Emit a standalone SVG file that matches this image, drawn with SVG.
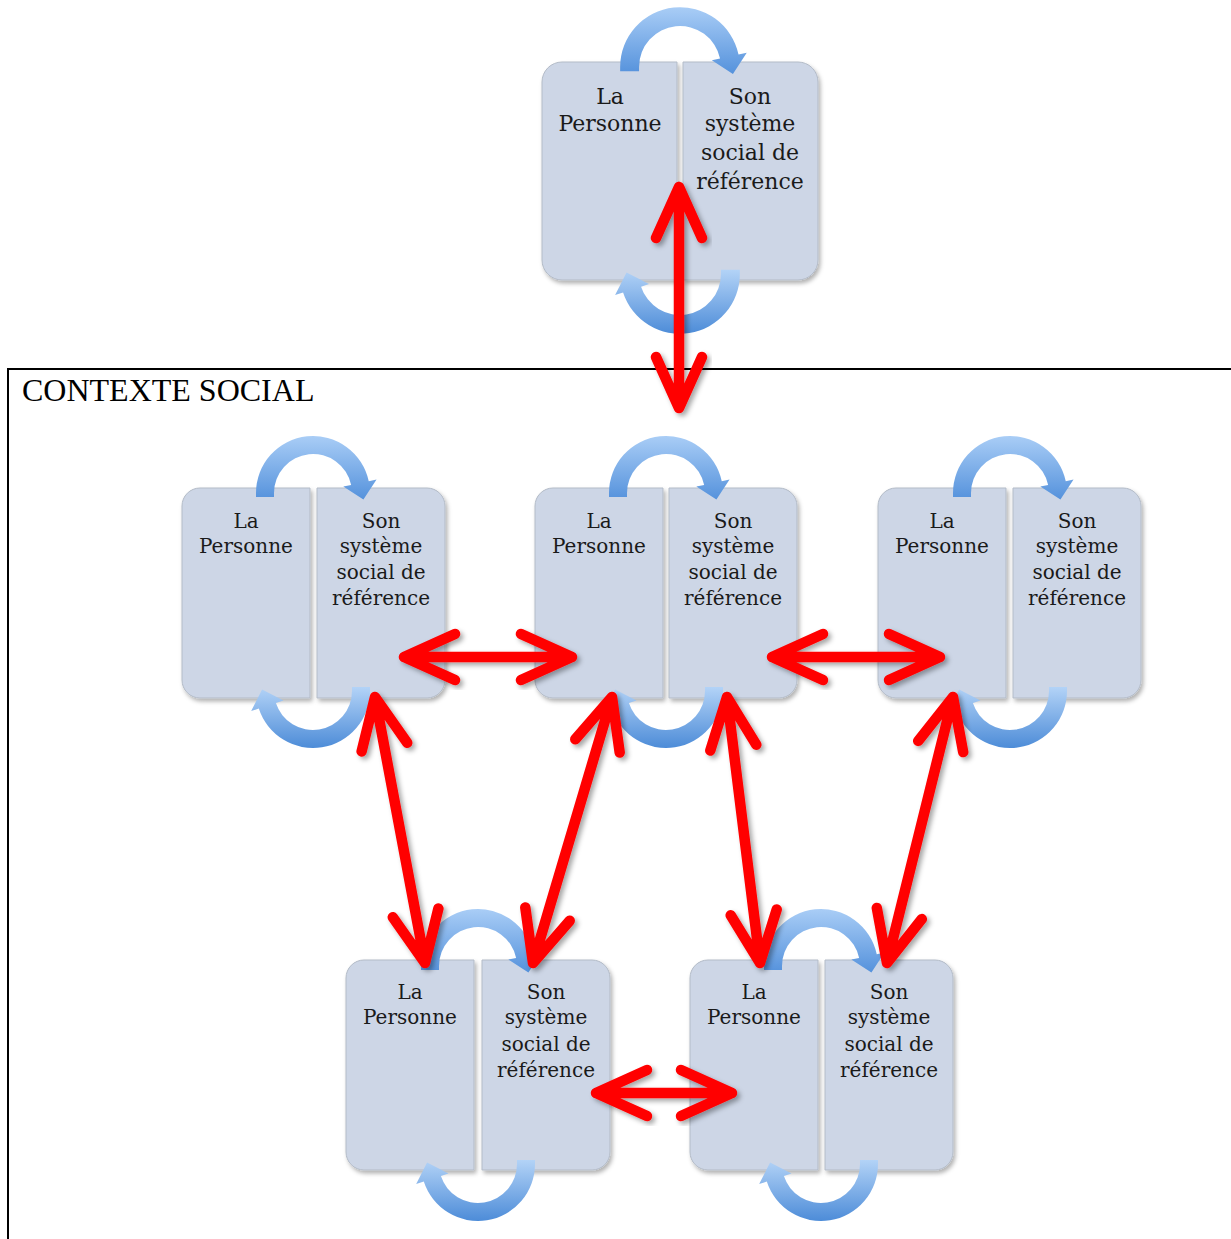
<svg xmlns="http://www.w3.org/2000/svg" xmlns:xlink="http://www.w3.org/1999/xlink" width="1231" height="1239" viewBox="0 0 1231 1239">
  <style>
    .panel { fill: #cdd6e6; stroke: #b3bbc7; stroke-width: 1; filter: url(#pshadow); }
    .lbl { font-family: "DejaVu Serif", "Liberation Serif", serif; font-size: 20px; fill: #1a1a1a; text-anchor: middle; }
    .lblTop { font-family: "DejaVu Serif", "Liberation Serif", serif; font-size: 22px; fill: #1a1a1a; text-anchor: middle; }
    .ctx { font-family: "Liberation Serif", "Times New Roman", serif; font-size: 32px; fill: #000; }
    .red { fill: none; stroke: #ff0000; stroke-width: 10.5; stroke-linecap: round; stroke-linejoin: round; filter: url(#rshadow); }
  </style>
  <defs>
    <filter id="pshadow" x="-10%" y="-10%" width="130%" height="130%">
      <feDropShadow dx="2" dy="3" stdDeviation="2" flood-color="#000" flood-opacity="0.3"/>
    </filter>
    <filter id="rshadow" x="-20%" y="-20%" width="140%" height="140%">
      <feDropShadow dx="3" dy="3" stdDeviation="2.5" flood-color="#000" flood-opacity="0.35"/>
    </filter>
    <linearGradient id="gTop" x1="0" y1="0" x2="0" y2="1">
      <stop offset="0" stop-color="#a9cdf6"/>
      <stop offset="1" stop-color="#5592dc"/>
    </linearGradient>
    <linearGradient id="gBot" x1="0" y1="0" x2="0" y2="1">
      <stop offset="0" stop-color="#b3d3f7"/>
      <stop offset="1" stop-color="#4d8cd8"/>
    </linearGradient>
    <path id="arcTop" fill="url(#gTop)" d="M-57,4 L-57,0 A57 57 0 0 1 55.75,-11.85 L63.57,-13.51 L50.4,6.6 L30.32,-6.45 L38.15,-8.11 A39 39 0 0 0 -39,0 L-39,4 Z"/>
    <path id="arcBot" fill="url(#gBot)" d="M57,-4 L57,0 A57 57 0 0 1 -54.21,17.61 L-61.82,20.09 L-50.9,-1.4 L-29.48,9.58 L-37.09,12.05 A39 39 0 0 0 39,0 L39,-4 Z"/>
    <path id="panelL" d="M18,0 H128 V210 H18 A18 18 0 0 1 0,192 V18 A18 18 0 0 1 18,0 Z"/>
    <path id="panelR" d="M0,0 H110 A18 18 0 0 1 128,18 V192 A18 18 0 0 1 110,210 H0 Z"/>
  </defs>

  <g id="contexte-social">
    <path d="M1233,369 H8 V1241" fill="none" stroke="#000" stroke-width="2"/>
    <text class="ctx" x="22" y="401">CONTEXTE SOCIAL</text>
  </g>

  <g id="node-top">
    <path class="panel" d="M562,62 H677 V280 H562 A20 20 0 0 1 542,260 V82 A20 20 0 0 1 562,62 Z"/>
    <path class="panel" d="M683,62 H798 A20 20 0 0 1 818,82 V260 A20 20 0 0 1 798,280 H683 Z"/>
    <use href="#arcTop" transform="translate(680,67) scale(1.05)"/>
    <use href="#arcBot" transform="translate(680,274) scale(1.05)"/>
    <text class="lblTop" x="610" y="104">La</text>
    <text class="lblTop" x="610" y="131">Personne</text>
    <text class="lblTop" x="750" y="104">Son</text>
    <text class="lblTop" x="750" y="131">système</text>
    <text class="lblTop" x="750" y="160">social de</text>
    <text class="lblTop" x="750" y="189">référence</text>
  </g>

  <g id="node-a">
    <use href="#panelL" class="panel" x="182" y="488"/>
    <use href="#panelR" class="panel" x="317" y="488"/>
    <use href="#arcTop" transform="translate(313,493)"/>
    <use href="#arcBot" transform="translate(313,691)"/>
    <text class="lbl" x="246" y="528">La</text>
    <text class="lbl" x="246" y="553">Personne</text>
    <text class="lbl" x="381" y="528">Son</text>
    <text class="lbl" x="381" y="553">système</text>
    <text class="lbl" x="381" y="579">social de</text>
    <text class="lbl" x="381" y="605">référence</text>
  </g>

  <g id="node-b">
    <use href="#panelL" class="panel" x="535" y="488"/>
    <use href="#panelR" class="panel" x="669" y="488"/>
    <use href="#arcTop" transform="translate(666,493)"/>
    <use href="#arcBot" transform="translate(666,691)"/>
    <text class="lbl" x="599" y="528">La</text>
    <text class="lbl" x="599" y="553">Personne</text>
    <text class="lbl" x="733" y="528">Son</text>
    <text class="lbl" x="733" y="553">système</text>
    <text class="lbl" x="733" y="579">social de</text>
    <text class="lbl" x="733" y="605">référence</text>
  </g>

  <g id="node-c">
    <use href="#panelL" class="panel" x="878" y="488"/>
    <use href="#panelR" class="panel" x="1013" y="488"/>
    <use href="#arcTop" transform="translate(1010,493)"/>
    <use href="#arcBot" transform="translate(1010,691)"/>
    <text class="lbl" x="942" y="528">La</text>
    <text class="lbl" x="942" y="553">Personne</text>
    <text class="lbl" x="1077" y="528">Son</text>
    <text class="lbl" x="1077" y="553">système</text>
    <text class="lbl" x="1077" y="579">social de</text>
    <text class="lbl" x="1077" y="605">référence</text>
  </g>

  <g id="node-d">
    <use href="#panelL" class="panel" x="346" y="960"/>
    <use href="#panelR" class="panel" x="482" y="960"/>
    <use href="#arcTop" transform="translate(478,966)"/>
    <use href="#arcBot" transform="translate(478,1164)"/>
    <text class="lbl" x="410" y="999">La</text>
    <text class="lbl" x="410" y="1024">Personne</text>
    <text class="lbl" x="546" y="999">Son</text>
    <text class="lbl" x="546" y="1024">système</text>
    <text class="lbl" x="546" y="1051">social de</text>
    <text class="lbl" x="546" y="1077">référence</text>
  </g>

  <g id="node-e">
    <use href="#panelL" class="panel" x="690" y="960"/>
    <use href="#panelR" class="panel" x="825" y="960"/>
    <use href="#arcTop" transform="translate(821,966)"/>
    <use href="#arcBot" transform="translate(821,1164)"/>
    <text class="lbl" x="754" y="999">La</text>
    <text class="lbl" x="754" y="1024">Personne</text>
    <text class="lbl" x="889" y="999">Son</text>
    <text class="lbl" x="889" y="1024">système</text>
    <text class="lbl" x="889" y="1051">social de</text>
    <text class="lbl" x="889" y="1077">référence</text>
  </g>

  <g id="connectors">
    <path class="red" d="M656,238 L679,187 L702,238 M679,187 L679,408 M656,357 L679,408 L702,357"/>
    <path class="red" d="M455,634 L404,657 L455,680 M404,657 L572,657 M521,634 L572,657 L521,680"/>
    <path class="red" d="M823,634 L772,657 L823,680 M772,657 L940,657 M889,634 L940,657 L889,680"/>
    <path class="red" d="M647,1070 L596,1093 L647,1116 M596,1093 L732,1093 M681,1070 L732,1093 L681,1116"/>
    <path class="red" d="M361.6,751.4 L375,697 L407.2,742.8 M375,697 L425,963 M392.8,917.2 L425,963 L438.4,908.6"/>
    <path class="red" d="M575.3,739.3 L612,697 L619.7,752.5 M612,697 L533,963 M525.3,907.5 L533,963 L569.7,920.7"/>
    <path class="red" d="M710.3,750.5 L727,697 L756.3,744.7 M727,697 L760,963 M730.7,915.3 L760,963 L776.7,909.5"/>
    <path class="red" d="M918.2,740.9 L953,697 L963.2,752.1 M953,697 L887,963 M876.8,907.9 L887,963 L921.8,919.1"/>
  </g>
</svg>
